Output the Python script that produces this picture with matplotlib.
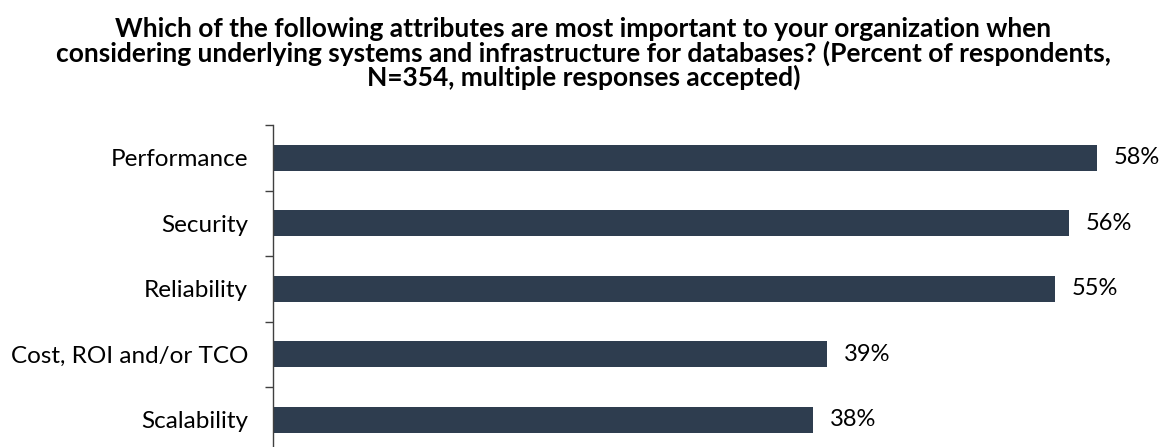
import matplotlib
matplotlib.use("Agg")
import matplotlib.pyplot as plt
import numpy as np

# Chart data
categories = ["Performance", "Security", "Reliability", "Cost, ROI and/or TCO", "Scalability"]
values = [58, 56, 55, 39, 38]  # percent of respondents

TITLE = ("Which of the following attributes are most important to your organization when\n"
         "considering underlying systems and infrastructure for databases? (Percent of respondents,\n"
         "N=354, multiple responses accepted)")

BAR_COLOR = "#2E3D4F"
AXIS_COLOR = "#404040"

plt.rcParams["font.family"] = ["Lato", "DejaVu Sans"]

fig = plt.figure(figsize=(11.67, 4.47), dpi=100)
# axes runs off the bottom edge, like the original
ax = fig.add_axes([273 / 1167, -5.5 / 447, (1167 - 273) / 1167, 327.5 / 447])

y = np.arange(len(categories))
ax.barh(y, values, height=0.4, color=BAR_COLOR)

for yi, v in zip(y, values):
    ax.annotate(f"{v}%", xy=(v, yi), xytext=(12, 0), textcoords="offset points",
                va="center", ha="left", fontsize=17, color="#000000")

ax.set_ylim(len(categories) - 0.5, -0.5)
ax.set_xlim(0, 62.9)

ax.set_yticks(y)
ax.set_yticklabels(categories, fontsize=17.5)
ax.set_yticks(np.arange(-0.5, len(categories) + 0.5), minor=True)
ax.tick_params(axis="y", which="major", length=0, pad=18)
ax.tick_params(axis="y", which="minor", length=6, width=1, color=AXIS_COLOR)
ax.set_xticks([])

for side in ["top", "right", "bottom"]:
    ax.spines[side].set_visible(False)
ax.spines["left"].set_color(AXIS_COLOR)
ax.spines["left"].set_linewidth(1)

fig.text(0.5, 0.962, TITLE, ha="center", va="top", fontsize=19,
         fontweight="bold", linespacing=0.97)

fig.savefig("out.png", dpi=100)
